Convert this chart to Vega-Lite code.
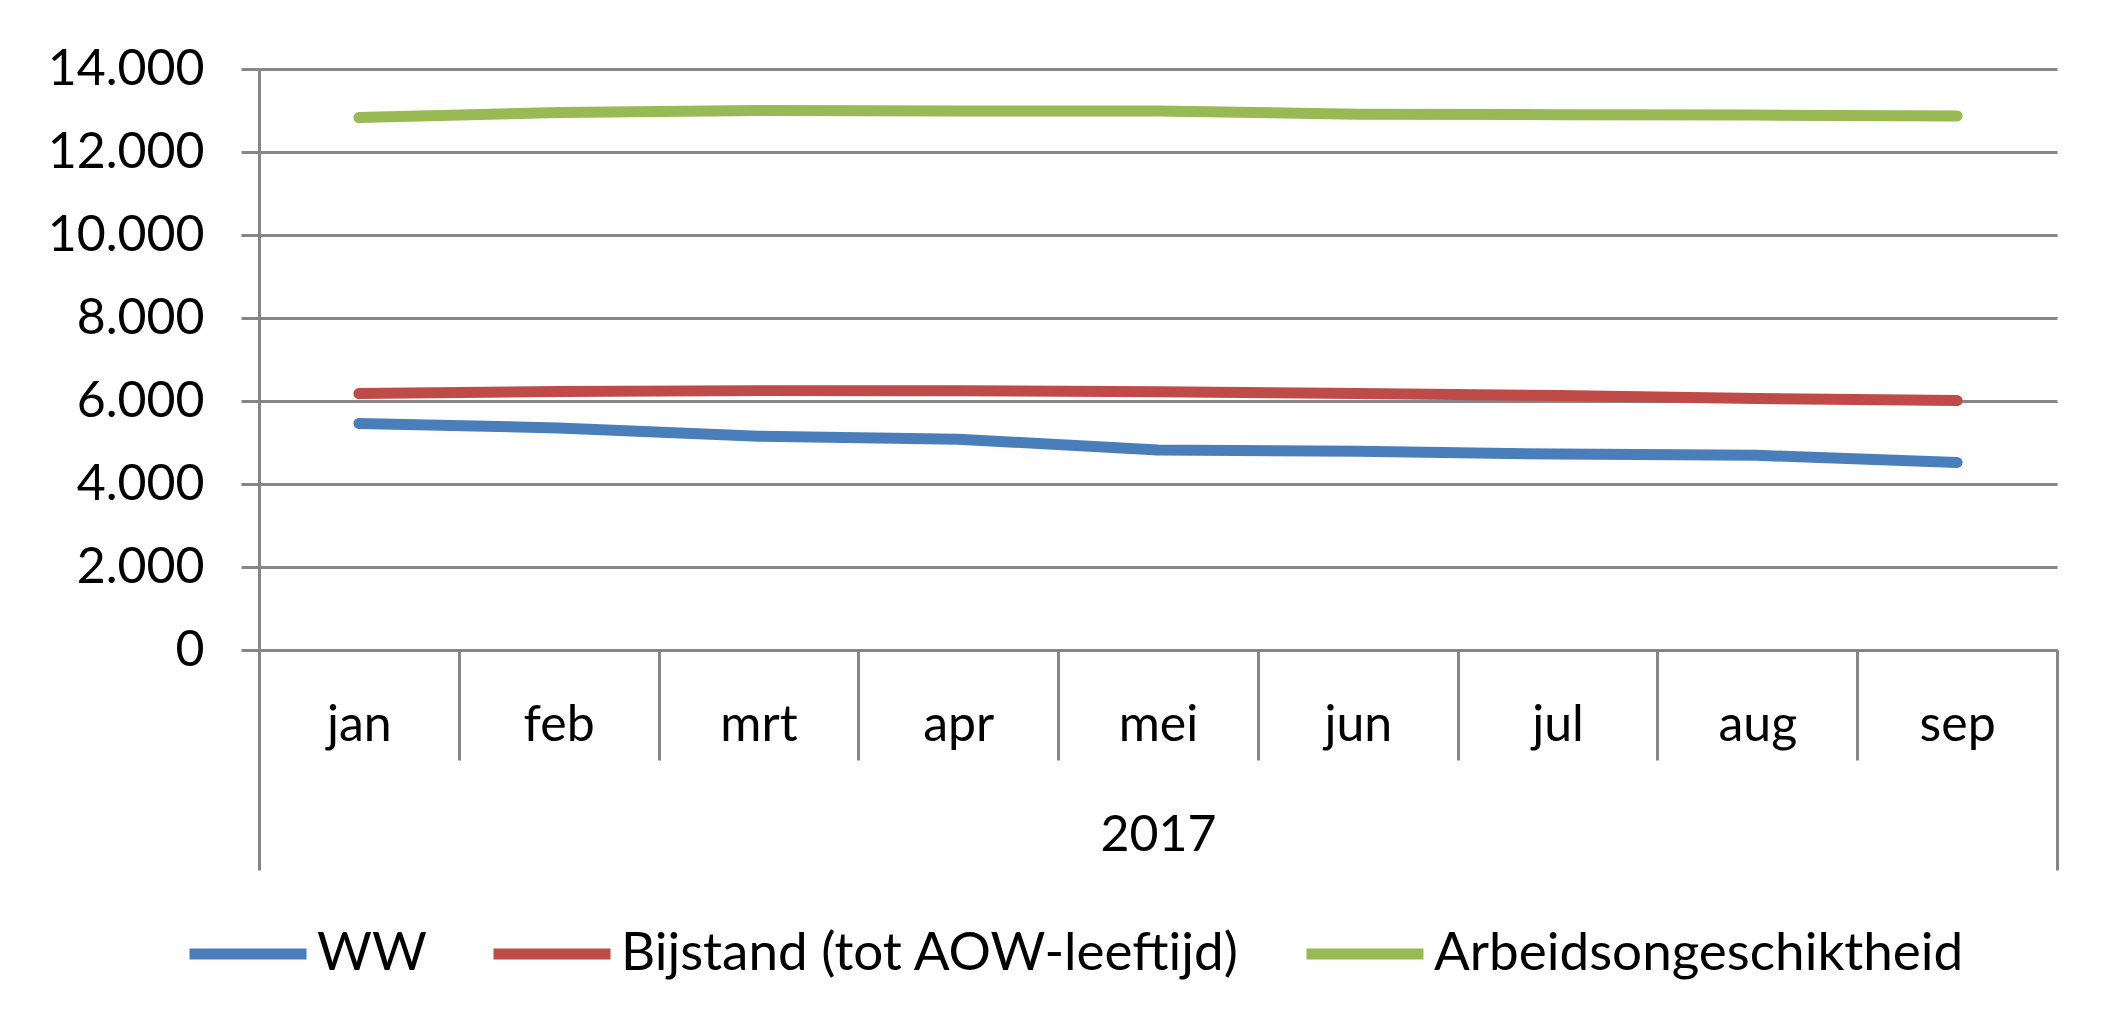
{
  "$schema": "https://vega.github.io/schema/vega-lite/v6.json",
  "width": 1798,
  "height": 581,
  "autosize": {"type": "none"},
  "padding": {"left": 259, "top": 69, "right": 62, "bottom": 381},
  "background": "white",
  "config": {
    "locale": {"number": {"decimal": ",", "thousands": ".", "grouping": [3], "currency": ["€", ""]}},
    "view": {"stroke": null},
    "font": "Lato"
  },
  "data": {
    "values": [
      {"nr": 1, "maand": "jan", "jaar": "2017", "reeks": "WW", "aantal": 5460},
      {"nr": 2, "maand": "feb", "jaar": "2017", "reeks": "WW", "aantal": 5350},
      {"nr": 3, "maand": "mrt", "jaar": "2017", "reeks": "WW", "aantal": 5150},
      {"nr": 4, "maand": "apr", "jaar": "2017", "reeks": "WW", "aantal": 5080},
      {"nr": 5, "maand": "mei", "jaar": "2017", "reeks": "WW", "aantal": 4820},
      {"nr": 6, "maand": "jun", "jaar": "2017", "reeks": "WW", "aantal": 4790},
      {"nr": 7, "maand": "jul", "jaar": "2017", "reeks": "WW", "aantal": 4720},
      {"nr": 8, "maand": "aug", "jaar": "2017", "reeks": "WW", "aantal": 4690},
      {"nr": 9, "maand": "sep", "jaar": "2017", "reeks": "WW", "aantal": 4520},
      {"nr": 1, "maand": "jan", "jaar": "2017", "reeks": "Bijstand (tot AOW-leeftijd)", "aantal": 6180},
      {"nr": 2, "maand": "feb", "jaar": "2017", "reeks": "Bijstand (tot AOW-leeftijd)", "aantal": 6230},
      {"nr": 3, "maand": "mrt", "jaar": "2017", "reeks": "Bijstand (tot AOW-leeftijd)", "aantal": 6250},
      {"nr": 4, "maand": "apr", "jaar": "2017", "reeks": "Bijstand (tot AOW-leeftijd)", "aantal": 6250},
      {"nr": 5, "maand": "mei", "jaar": "2017", "reeks": "Bijstand (tot AOW-leeftijd)", "aantal": 6220},
      {"nr": 6, "maand": "jun", "jaar": "2017", "reeks": "Bijstand (tot AOW-leeftijd)", "aantal": 6180},
      {"nr": 7, "maand": "jul", "jaar": "2017", "reeks": "Bijstand (tot AOW-leeftijd)", "aantal": 6130},
      {"nr": 8, "maand": "aug", "jaar": "2017", "reeks": "Bijstand (tot AOW-leeftijd)", "aantal": 6060},
      {"nr": 9, "maand": "sep", "jaar": "2017", "reeks": "Bijstand (tot AOW-leeftijd)", "aantal": 6010},
      {"nr": 1, "maand": "jan", "jaar": "2017", "reeks": "Arbeidsongeschiktheid", "aantal": 12830},
      {"nr": 2, "maand": "feb", "jaar": "2017", "reeks": "Arbeidsongeschiktheid", "aantal": 12950},
      {"nr": 3, "maand": "mrt", "jaar": "2017", "reeks": "Arbeidsongeschiktheid", "aantal": 13000},
      {"nr": 4, "maand": "apr", "jaar": "2017", "reeks": "Arbeidsongeschiktheid", "aantal": 12990},
      {"nr": 5, "maand": "mei", "jaar": "2017", "reeks": "Arbeidsongeschiktheid", "aantal": 12990},
      {"nr": 6, "maand": "jun", "jaar": "2017", "reeks": "Arbeidsongeschiktheid", "aantal": 12910},
      {"nr": 7, "maand": "jul", "jaar": "2017", "reeks": "Arbeidsongeschiktheid", "aantal": 12900},
      {"nr": 8, "maand": "aug", "jaar": "2017", "reeks": "Arbeidsongeschiktheid", "aantal": 12890},
      {"nr": 9, "maand": "sep", "jaar": "2017", "reeks": "Arbeidsongeschiktheid", "aantal": 12870}
    ]
  },
  "layer": [
    {
      "mark": {"type": "point", "opacity": 0},
      "encoding": {
        "x": {
          "field": "jaar", "type": "nominal",
          "scale": {"type": "band", "paddingInner": 0, "paddingOuter": 0},
          "axis": {
            "title": null, "orient": "bottom", "tickBand": "extent", "tickSize": 220,
            "tickColor": "#868686", "tickWidth": 3, "domain": false, "grid": false,
            "labelFontSize": 50, "labelFont": "Lato", "labelColor": "black",
            "labelBaseline": "alphabetic", "labelPadding": -20, "labelAngle": 0, "labelFlush": false
          }
        },
        "y": {"field": "aantal", "type": "quantitative"}
      }
    },
    {
      "mark": {"type": "line", "strokeWidth": 11, "strokeCap": "round", "strokeJoin": "round"},
      "encoding": {
        "x": {
          "field": "maand", "type": "nominal",
          "sort": ["jan", "feb", "mrt", "apr", "mei", "jun", "jul", "aug", "sep"],
          "bandPosition": 0.5,
          "scale": {"type": "band", "paddingInner": 0, "paddingOuter": 0},
          "axis": {
            "title": null, "orient": "bottom", "tickBand": "extent", "tickSize": 110,
            "tickColor": "#868686", "tickWidth": 3, "domainColor": "#868686", "domainWidth": 3,
            "grid": false, "labelFontSize": 50, "labelFont": "Lato", "labelColor": "black",
            "labelBaseline": "alphabetic", "labelPadding": -20, "labelAngle": 0, "labelFlush": false
          }
        },
        "y": {
          "field": "aantal", "type": "quantitative",
          "scale": {"domain": [0, 14000], "nice": false, "zero": true},
          "axis": {
            "title": null, "values": [0, 2000, 4000, 6000, 8000, 10000, 12000, 14000], "format": ",d",
            "grid": true, "gridColor": "#868686", "gridWidth": 3,
            "tickColor": "#868686", "tickWidth": 3, "tickSize": 18,
            "domainColor": "#868686", "domainWidth": 3,
            "labelFontSize": 50, "labelFont": "Lato", "labelColor": "black", "labelPadding": 37,
            "labelBaseline": "middle"
          }
        },
        "order": {"field": "nr", "type": "quantitative"},
        "color": {
          "field": "reeks", "type": "nominal",
          "scale": {
            "domain": ["WW", "Bijstand (tot AOW-leeftijd)", "Arbeidsongeschiktheid"],
            "range": ["#4a7ebb", "#be4b48", "#98b954"]
          },
          "legend": {
            "title": null, "orient": "none", "direction": "horizontal", "columns": 3,
            "legendX": -75, "legendY": 821,
            "symbolType": "stroke", "symbolSize": 13689, "symbolStrokeWidth": 11,
            "labelFontSize": 53, "labelFont": "Lato", "labelColor": "black",
            "labelOffset": 5, "columnPadding": 44, "padding": 0, "labelLimit": 1000
          }
        }
      }
    }
  ],
  "resolve": {"scale": {"x": "independent"}, "axis": {"x": "independent"}}
}
